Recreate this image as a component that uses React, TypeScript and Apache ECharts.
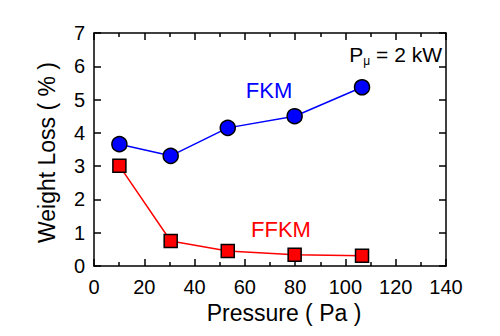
import React, { useEffect, useRef } from "react";
import * as echarts from "echarts";

const pressureFKM = [10.1, 30.5, 53.2, 79.8, 106.6];
const lossFKM = [3.66, 3.31, 4.15, 4.5, 5.37];
const pressureFFKM = [10.1, 30.5, 53.2, 79.8, 106.6];
const lossFFKM = [3.01, 0.75, 0.45, 0.34, 0.31];

const FONT = "Liberation Sans";

export default function App() {
  const ref = useRef<HTMLDivElement>(null);
  useEffect(() => {
    if (!ref.current) return;
    const chart = echarts.init(ref.current, null, { renderer: "svg" });
    const axisCommon = {
      type: "value" as const,
      axisLine: { show: true, onZero: false, lineStyle: { color: "#000", width: 1.5 } },
      axisTick: { show: true, inside: true, length: 7, lineStyle: { color: "#000", width: 1.5 } },
      splitLine: { show: false },
    };
    chart.setOption({
      animation: false,
      backgroundColor: "#fff",
      grid: { left: 94, right: 54, top: 33, bottom: 70, containLabel: false },
      xAxis: [
        {
          ...axisCommon,
          position: "bottom",
          min: 0,
          max: 140,
          interval: 20,
          minorTick: { show: true, splitNumber: 2, length: 4, lineStyle: { color: "#000", width: 1.5 } },
          axisLabel: { fontFamily: FONT, fontSize: 20, color: "#000", margin: 11 },
          name: "Pressure ( Pa )",
          nameLocation: "middle",
          nameGap: 34,
          nameTextStyle: { fontFamily: FONT, fontSize: 23, color: "#000", padding: [0, 0, 0, 28] },
        },
        {
          ...axisCommon,
          position: "top",
          min: 0,
          max: 140,
          interval: 20,
          minorTick: { show: true, splitNumber: 2, length: 4, lineStyle: { color: "#000", width: 1.5 } },
          axisLabel: { show: false },
        },
      ],
      yAxis: [
        {
          ...axisCommon,
          position: "left",
          min: 0,
          max: 7,
          interval: 1,
          axisLabel: { fontFamily: FONT, fontSize: 20, color: "#000", margin: 9 },
          name: "Weight Loss ( % )",
          nameLocation: "middle",
          nameGap: 36,
          nameTextStyle: { fontFamily: FONT, fontSize: 23, color: "#000", padding: [0, 6, 0, 0] },
        },
        {
          ...axisCommon,
          position: "right",
          min: 0,
          max: 7,
          interval: 1,
          axisLabel: { show: false },
        },
      ],
      series: [
        {
          type: "line",
          xAxisIndex: 0,
          yAxisIndex: 0,
          data: pressureFKM.map((x, i) => [x, lossFKM[i]]),
          symbol: "circle",
          symbolSize: 15,
          lineStyle: { color: "#0000ff", width: 1.5 },
          itemStyle: { color: "#0000ff", borderColor: "#000", borderWidth: 1.5 },
        },
        {
          type: "line",
          xAxisIndex: 0,
          yAxisIndex: 0,
          data: pressureFFKM.map((x, i) => [x, lossFFKM[i]]),
          symbol: "rect",
          symbolSize: 13,
          lineStyle: { color: "#ff0000", width: 1.5 },
          itemStyle: { color: "#ff0000", borderColor: "#000", borderWidth: 1.5 },
        },
      ],
      graphic: [
        {
          type: "text",
          x: 269,
          y: 90,
          style: {
            text: "FKM",
            fontFamily: FONT,
            fontSize: 22,
            fill: "#0000ff",
            align: "center",
            verticalAlign: "middle",
          },
        },
        {
          type: "text",
          x: 281,
          y: 229,
          style: {
            text: "FFKM",
            fontFamily: FONT,
            fontSize: 22,
            fill: "#ff0000",
            align: "center",
            verticalAlign: "middle",
          },
        },
        {
          type: "text",
          x: 442,
          y: 54,
          style: {
            text: "{a|P}{s|μ}{a| = 2 kW}",
            align: "right",
            verticalAlign: "middle",
            rich: {
              a: { fontFamily: FONT, fontSize: 21, fill: "#000" },
              s: { fontFamily: FONT, fontSize: 12, fill: "#000", padding: [14, 0, 0, 0] },
            },
          },
        },
      ],
    });
    return () => chart.dispose();
  }, []);
  return <div ref={ref} style={{ position: "absolute", left: 0, top: 0, width: 500, height: 336 }} />;
}
